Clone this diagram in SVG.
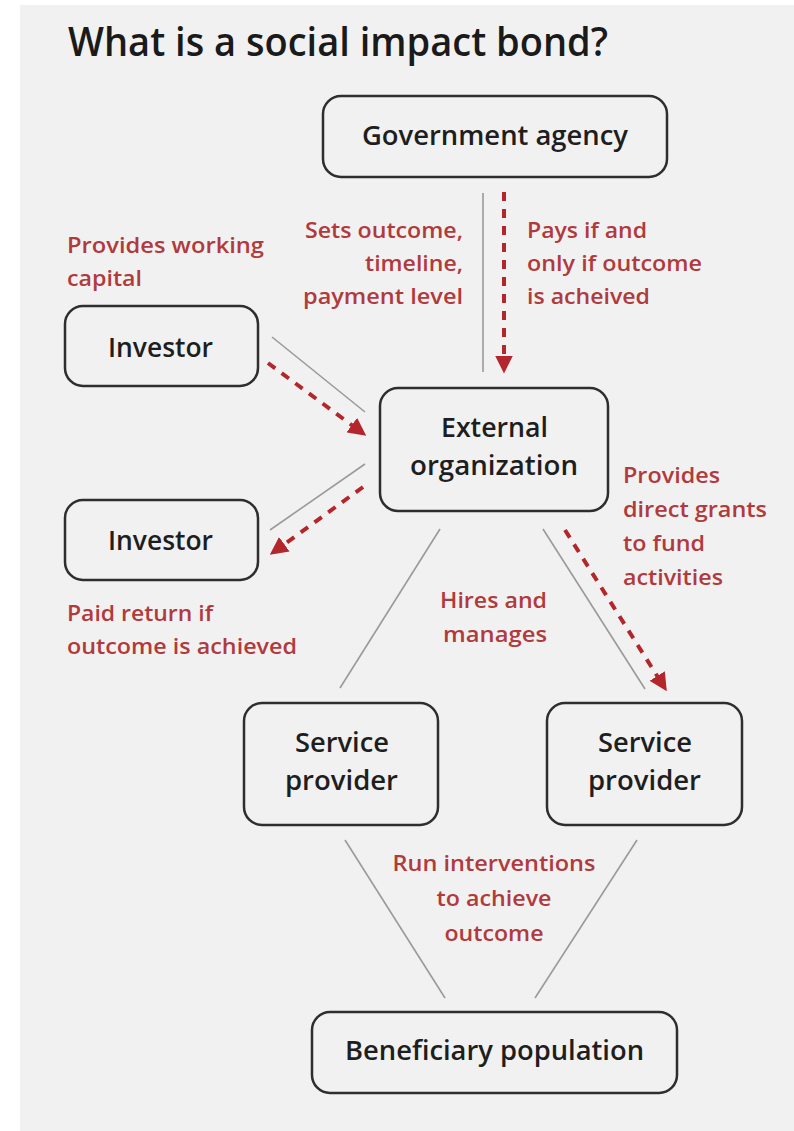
<svg xmlns="http://www.w3.org/2000/svg" width="794" height="1131" viewBox="0 0 794 1131">
<defs>
<style>
.bg{fill:#f1f1f1}
.box{fill:#f1f1f1;stroke:#2e2e2e;stroke-width:2.5}
.nt{font-family:"Open Sans","Liberation Sans",sans-serif;font-weight:600;font-size:27px;fill:#1e1e1e}
.lb{font-family:"Open Sans","Liberation Sans",sans-serif;font-weight:600;font-size:22px;fill:#b03a3c}
.title{font-family:"Open Sans","Liberation Sans",sans-serif;font-weight:600;font-size:40px;fill:#1a1a1a}
.gl{stroke:#9a9a9a;stroke-width:1.6;fill:none}
.rd{stroke:#b3262b;stroke-width:4;stroke-dasharray:9 8;fill:none}
</style>
<marker id="ah" markerUnits="userSpaceOnUse" markerWidth="18" markerHeight="18" viewBox="0 0 16 16" refX="4" refY="8" orient="auto">
<path d="M0,0 L16,8 L0,16 z" fill="#b3262b"/>
</marker>
</defs>
<rect x="0" y="0" width="794" height="1131" fill="#ffffff"/>
<rect class="bg" x="20" y="5" width="774" height="1126"/>
<text class="title" x="68" y="56" textLength="540" lengthAdjust="spacingAndGlyphs">What is a social impact bond?</text>

<g id="connectors">
<line class="gl" x1="483" y1="193" x2="483" y2="372"/>
<line class="gl" x1="272" y1="337" x2="365" y2="412"/>
<line class="gl" x1="365" y1="464" x2="270" y2="530"/>
<line class="gl" x1="440" y1="529" x2="340" y2="688"/>
<line class="gl" x1="543" y1="529" x2="645" y2="689"/>
<line class="gl" x1="345" y1="840" x2="445" y2="998"/>
<line class="gl" x1="637" y1="840" x2="535" y2="998"/>
<line class="rd" x1="504" y1="192" x2="504" y2="360" marker-end="url(#ah)"/>
<line class="rd" x1="268" y1="363" x2="355.4" y2="427.8" marker-end="url(#ah)"/>
<line class="rd" x1="363" y1="487" x2="280.7" y2="546.9" marker-end="url(#ah)"/>
<line class="rd" x1="565" y1="530" x2="659.6" y2="679.8" marker-end="url(#ah)"/>
</g>

<g id="government">
<rect class="box" x="323" y="96" width="344" height="81" rx="18"/>
<text class="nt" x="362" y="145" textLength="266" lengthAdjust="spacingAndGlyphs">Government agency</text>
</g>
<g id="investor1">
<rect class="box" x="65" y="306" width="193" height="80" rx="18"/>
<text class="nt" x="108" y="357" textLength="105" lengthAdjust="spacingAndGlyphs">Investor</text>
</g>
<g id="investor2">
<rect class="box" x="65" y="500" width="193" height="80" rx="18"/>
<text class="nt" x="108" y="550" textLength="105" lengthAdjust="spacingAndGlyphs">Investor</text>
</g>
<g id="external">
<rect class="box" x="380" y="388" width="228" height="123" rx="18"/>
<text class="nt" x="441" y="437" textLength="107" lengthAdjust="spacingAndGlyphs">External</text>
<text class="nt" x="410" y="475" textLength="168" lengthAdjust="spacingAndGlyphs">organization</text>
</g>
<g id="service1">
<rect class="box" x="244" y="703" width="194" height="122" rx="18"/>
<text class="nt" x="295" y="752" textLength="94" lengthAdjust="spacingAndGlyphs">Service</text>
<text class="nt" x="285" y="790" textLength="113" lengthAdjust="spacingAndGlyphs">provider</text>
</g>
<g id="service2">
<rect class="box" x="547" y="703" width="195" height="122" rx="18"/>
<text class="nt" x="598" y="752" textLength="94" lengthAdjust="spacingAndGlyphs">Service</text>
<text class="nt" x="588" y="790" textLength="113" lengthAdjust="spacingAndGlyphs">provider</text>
</g>
<g id="beneficiary">
<rect class="box" x="312" y="1012" width="365" height="81" rx="18"/>
<text class="nt" x="345" y="1060" textLength="299" lengthAdjust="spacingAndGlyphs">Beneficiary population</text>
</g>

<g id="labels">
<text class="lb" x="67" y="253" textLength="197" lengthAdjust="spacingAndGlyphs">Provides working</text>
<text class="lb" x="67" y="286" textLength="75" lengthAdjust="spacingAndGlyphs">capital</text>
<text class="lb" x="463" y="238" text-anchor="end" textLength="158" lengthAdjust="spacingAndGlyphs">Sets outcome,</text>
<text class="lb" x="463" y="271" text-anchor="end" textLength="98" lengthAdjust="spacingAndGlyphs">timeline,</text>
<text class="lb" x="463" y="304" text-anchor="end" textLength="160" lengthAdjust="spacingAndGlyphs">payment level</text>
<text class="lb" x="527" y="238" textLength="120" lengthAdjust="spacingAndGlyphs">Pays if and</text>
<text class="lb" x="527" y="271" textLength="175" lengthAdjust="spacingAndGlyphs">only if outcome</text>
<text class="lb" x="527" y="304" textLength="123" lengthAdjust="spacingAndGlyphs">is acheived</text>
<text class="lb" x="67" y="621" textLength="146" lengthAdjust="spacingAndGlyphs">Paid return if</text>
<text class="lb" x="67" y="654" textLength="230" lengthAdjust="spacingAndGlyphs">outcome is achieved</text>
<text class="lb" x="623" y="483" textLength="97" lengthAdjust="spacingAndGlyphs">Provides</text>
<text class="lb" x="623" y="517" textLength="144" lengthAdjust="spacingAndGlyphs">direct grants</text>
<text class="lb" x="623" y="551" textLength="82" lengthAdjust="spacingAndGlyphs">to fund</text>
<text class="lb" x="623" y="585" textLength="100" lengthAdjust="spacingAndGlyphs">activities</text>
<text class="lb" x="440" y="608" textLength="107" lengthAdjust="spacingAndGlyphs">Hires and</text>
<text class="lb" x="443" y="642" textLength="104" lengthAdjust="spacingAndGlyphs">manages</text>
<text class="lb" x="494" y="871" text-anchor="middle" textLength="203" lengthAdjust="spacingAndGlyphs">Run interventions</text>
<text class="lb" x="494" y="906" text-anchor="middle" textLength="115" lengthAdjust="spacingAndGlyphs">to achieve</text>
<text class="lb" x="494" y="941" text-anchor="middle" textLength="99" lengthAdjust="spacingAndGlyphs">outcome</text>
</g>
</svg>
